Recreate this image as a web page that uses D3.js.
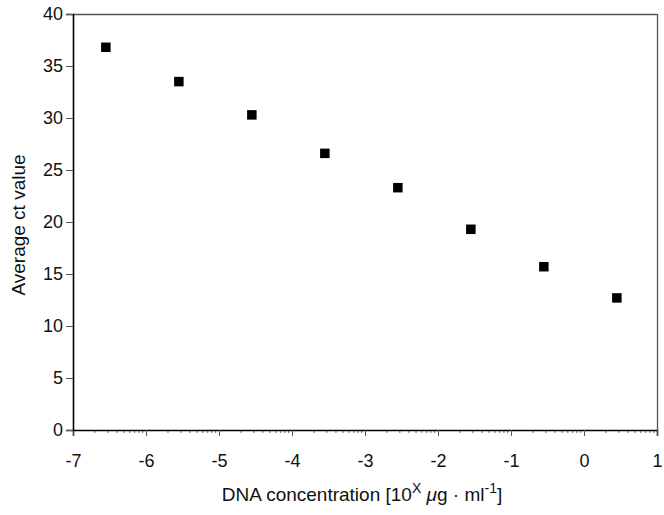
<!DOCTYPE html>
<html><head><meta charset="utf-8">
<script src="https://d3js.org/d3.v7.min.js"></script>
<style>body{margin:0;background:#fff}svg{display:block}text{font-family:"Liberation Sans",Arial,sans-serif}</style>
</head><body><svg id="c" width="664" height="515"></svg>
<script>
const xValues = [-6.55, -5.55, -4.55, -3.55, -2.55, -1.55, -0.55, 0.45];
const ctValues = [36.8, 33.5, 30.3, 26.6, 23.3, 19.3, 15.7, 12.7];
const xTicks = [-7, -6, -5, -4, -3, -2, -1, 0, 1];
const yTicks = [0, 5, 10, 15, 20, 25, 30, 35, 40];

const svg = d3.select("#c");
const L = 73, R = 657, T = 14, B = 430;
const x = d3.scaleLinear().domain([-7, 1]).range([L, R]);
const y = d3.scaleLinear().domain([0, 40]).range([B, T]);

// box top/right
svg.append("line").attr("x1", L).attr("x2", R).attr("y1", T + 0.5).attr("y2", T + 0.5).attr("stroke", "#555").attr("stroke-width", 1.3);
svg.append("line").attr("x1", R + 0.5).attr("x2", R + 0.5).attr("y1", T).attr("y2", B).attr("stroke", "#555").attr("stroke-width", 1.3);

// minor ticks (log-style within each unit)
const minor = [];
for (let d = -7; d < 1; d++) for (let k = 2; k <= 9; k++) minor.push(d + Math.log10(k));
svg.append("g").selectAll("line").data(minor).join("line")
  .attr("x1", d => x(d)).attr("x2", d => x(d)).attr("y1", B).attr("y2", B + 3)
  .attr("stroke", "#666").attr("stroke-width", 1);

const xa = svg.append("g").attr("transform", `translate(0,${B})`)
  .call(d3.axisBottom(x).tickValues(xTicks).tickFormat(d => d).tickSize(6).tickPadding(18));
xa.select(".domain").attr("stroke", "#000").attr("stroke-width", 1.6);
xa.selectAll(".tick line").attr("stroke", "#555");
xa.selectAll("text").attr("font-size", 18).attr("fill", "#111");

const ya = svg.append("g").attr("transform", `translate(${L},0)`)
  .call(d3.axisLeft(y).tickValues(yTicks).tickSize(7).tickPadding(3));
ya.select(".domain").attr("stroke", "#000").attr("stroke-width", 1.6);
ya.selectAll(".tick line").attr("stroke", "#555");
ya.selectAll("text").attr("font-size", 18).attr("fill", "#111");

// points
const s = 9.5;
svg.append("g").selectAll("rect").data(xValues).join("rect")
  .attr("x", (d) => x(d) - s / 2).attr("y", (d, i) => y(ctValues[i]) - s / 2)
  .attr("width", s).attr("height", s).attr("fill", "#000");

// axis titles
const xt = svg.append("text").attr("x", 362).attr("y", 501).attr("text-anchor", "middle")
  .attr("font-size", 19).attr("fill", "#111");
xt.append("tspan").text("DNA concentration [10");
xt.append("tspan").attr("dy", -8).attr("font-size", 14).text("X");
xt.append("tspan").attr("dy", 8).text(" ");
xt.append("tspan").attr("font-style", "italic").text("μ");
xt.append("tspan").text("g · ml");
xt.append("tspan").attr("dy", -8).attr("font-size", 14).text("-1");
xt.append("tspan").attr("dy", 8).text("]");

svg.append("text").attr("transform", `translate(25,225) rotate(-90)`)
  .attr("text-anchor", "middle").attr("font-size", 19).attr("fill", "#111").text("Average ct value");
</script></body></html>
